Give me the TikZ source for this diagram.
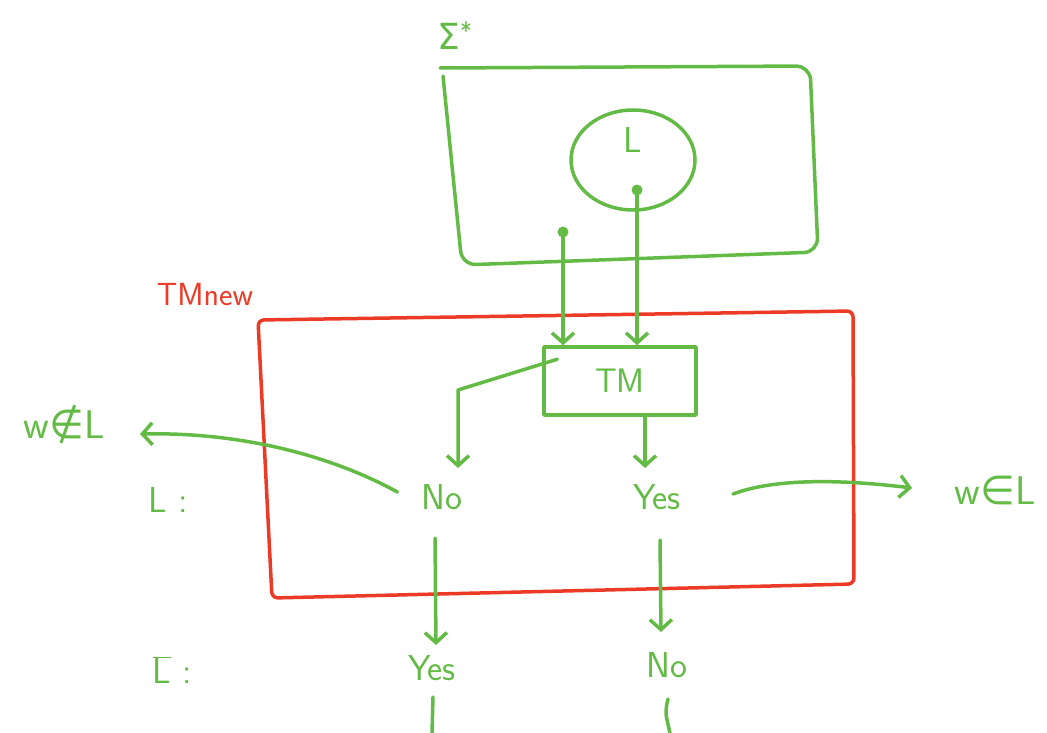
\documentclass[tikz,border=0pt]{standalone}
\usepackage{fontspec}
\newfontfamily\symfont{DejaVu Sans}
\usetikzlibrary{arrows.meta,shapes.geometric}
\definecolor{pen}{RGB}{99,187,70}
\definecolor{redpen}{RGB}{235,58,38}

\begin{document}
\begin{tikzpicture}[x=1pt,y=-1pt,
  ink/.style={color=pen,line width=3.5pt,line cap=round,line join=round},
  redink/.style={color=redpen,line width=3.5pt,line cap=round,line join=round},
  tip/.style={-{Straight Barb[length=10pt,width=22pt,line width=3.5pt]}},
  word/.style={color=pen,inner sep=2pt,font=\fontsize{36}{40}\sffamily}]
  \useasboundingbox (0,0) rectangle (1047,733);

  % Sigma^* frame with the language L inside
  \node[word] (sigma) at (455,36) {{\symfont Σ}\textsuperscript{*}};
  \draw[ink,rounded corners=14pt] (440,68) -- (810,66) -- (818,252) -- (462,265) -- (443,76);
  \node[ellipse,draw,ink,minimum width=124pt,minimum height=100pt] (lang) at (633,160) {};
  \node[word] (langname) at (633,140) {L};
  \coordinate (outdot) at (563,232);
  \coordinate (indot) at (637,190);
  \fill[pen] (outdot) circle (5.5pt);
  \fill[pen] (indot) circle (5.5pt);

  % the new machine
  \node[anchor=south,color=redpen,inner sep=0pt,font=\fontsize{32}{36}\sffamily] (tmnew) at (205,306) {TMnew};
  \draw[redink,rounded corners=6pt] (258,320) -- (853,311) -- (854,584) -- (272,598) -- cycle;

  \node[draw,ink,minimum width=152pt,minimum height=68pt,text=pen,font=\fontsize{34}{38}\sffamily] (tm) at (620,381) {TM};
  \draw[ink,tip] (outdot) -- (outdot |- tm.north);
  \draw[ink,tip] (indot) -- (indot |- tm.north);

  % answers of TM
  \node[word] (no) at (442,497) {No};
  \node[word] (yes) at (657,497) {Yes};
  \node[word] (lrow) at (168,500) {L :};
  \draw[ink,tip] ([xshift=15pt,yshift=-14pt]tm.north west) -- (458,390) -- (458,468);
  \draw[ink,tip] (645,417) -- (645,468);

  \node[word,font=\fontsize{40}{44}\sffamily] (notin) at (64,425) {w{\symfont ∉}L};
  \node[word,font=\fontsize{40}{44}\sffamily] (in) at (995,490) {w{\symfont ∈}L};
  \draw[ink,tip] ([xshift=-22pt,yshift=5pt]no.west) .. controls (330,455) and (240,432) .. (140,434);
  \draw[ink,tip] ([xshift=50pt,yshift=3pt]yes.east) .. controls (770,480) and (830,478) .. (912,488);

  % answers for the complement
  \node[word] (yesbar) at (432,668) {Yes};
  \node[word] (nobar) at (667,665) {No};
  \node[word] (lbar) at (172,670) {$\overline{\mbox{L}}$ :};
  \draw[ink,tip] (435,538) -- (436,645);
  \draw[ink,tip] (660,540) -- (661,632);
  \coordinate (yesend) at (432,733);
  \coordinate (noend) at (670,733);
  \draw[ink] (433,697) -- (yesend);
  \draw[ink] (668,699) .. controls (665,712) .. (noend);
\end{tikzpicture}
\end{document}
